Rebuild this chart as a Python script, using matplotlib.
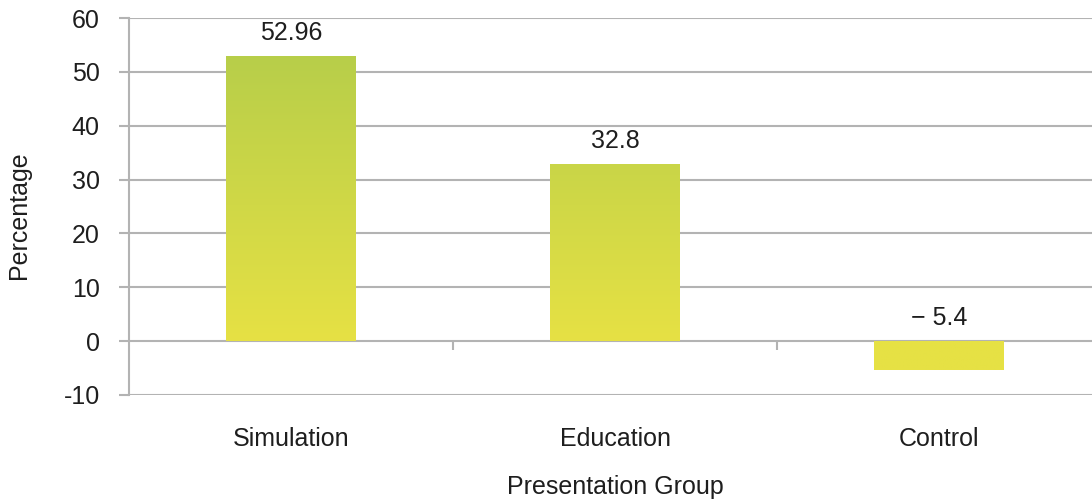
#!/usr/bin/env python3
"""Bar chart of percentage change by presentation group."""

import matplotlib
matplotlib.use("Agg")
import matplotlib.pyplot as plt
import numpy as np
from matplotlib.colors import LinearSegmentedColormap

groups = ["Simulation", "Education", "Control"]
values = [52.96, 32.8, -5.4]
value_labels = ["52.96", "32.8", "\u2212 5.4"]
y_ticks = [-10, 0, 10, 20, 30, 40, 50, 60]

plt.rcParams["font.family"] = ["Liberation Sans", "DejaVu Sans"]
TEXT = "#1e1e1e"
GRID = "#b3b3b3"
FS = 18

# yellow at zero fading to green near the top of the scale
cmap = LinearSegmentedColormap.from_list("bars", ["#e6e144", "#b5cd4a"])

fig = plt.figure(figsize=(10.92, 5.0), dpi=100)
ax = fig.add_axes([129 / 1092, 1 - 395 / 500, 972 / 1092, 377 / 500])

ax.set_xlim(-0.5, len(groups) - 0.5)
ax.set_ylim(-10, 60)

x = np.arange(len(groups))
bars = ax.bar(x, values, width=0.4, color="none", edgecolor="none", zorder=3)

grad = np.linspace(-10, 60, 256).reshape(-1, 1)
for rect in bars:
    x0 = rect.get_x()
    img = ax.imshow(grad, cmap=cmap, vmin=0, vmax=56, origin="lower",
                    extent=[x0, x0 + rect.get_width(), -10, 60],
                    aspect="auto", zorder=3, interpolation="bilinear")
    img.set_clip_path(rect)

for xi, v, lab in zip(x, values, value_labels):
    ax.annotate(lab, (xi, max(v, 0)), xytext=(0, 8), textcoords="offset points",
                ha="center", va="bottom", fontsize=FS, color=TEXT)

ax.set_yticks(y_ticks)
ax.set_yticklabels([str(t) for t in y_ticks])
ax.grid(axis="y", color=GRID, linewidth=1.5, zorder=0)
ax.set_axisbelow(True)

# short separators below the zero line between categories
ax.vlines([0.5, 1.5], -1.7, 0, color=GRID, linewidth=1.5, zorder=2)

for side in ("top", "right", "bottom"):
    ax.spines[side].set_visible(False)
ax.spines["left"].set_color(GRID)
ax.spines["left"].set_linewidth(1.5)

ax.set_xticks(x)
ax.set_xticklabels(groups)
ax.tick_params(axis="x", length=0, pad=23, labelsize=FS, labelcolor=TEXT)
ax.tick_params(axis="y", length=7, width=1.5, color=GRID, pad=14,
               labelsize=FS, labelcolor=TEXT)

ax.set_xlabel("Presentation Group", fontsize=FS, color=TEXT, labelpad=17)
ax.set_ylabel("Percentage", fontsize=FS, color=TEXT)
ax.yaxis.set_label_coords(-0.101, 0.477)

fig.savefig("out.png", dpi=100, facecolor="white")
